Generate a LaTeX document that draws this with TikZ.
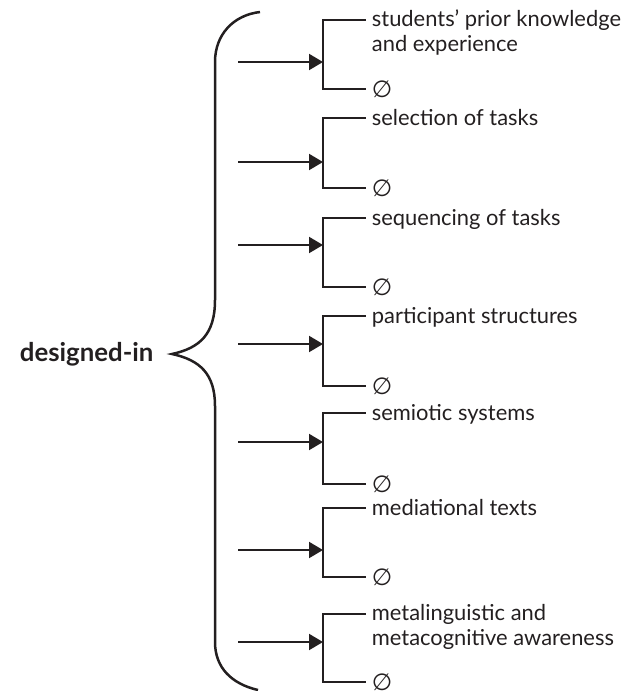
\documentclass[tikz,border=0pt]{standalone}
\usepackage{fontspec}
\setmainfont{Lato}
\newfontfamily\symbfont{DejaVu Sans}
\usepackage{xcolor}
\usepackage{tikz}
\usetikzlibrary{positioning,arrows.meta}
\definecolor{ink}{HTML}{231F20}

\begin{document}
\begin{tikzpicture}[x=0.03cm,y=-0.03cm,ink,
    font=\fontsize{18.7}{21.3}\selectfont,
    bar/.style={line width=0.06cm,line cap=rect},
    pointer/.style={line width=0.06cm,-{Triangle[length=0.42cm,width=0.48cm]}},
    item/.style={inner xsep=0.2cm,inner ysep=0pt,align=left,execute at begin node=\strut},
    nilmark/.style={inner xsep=0.2cm,inner ysep=0pt,font=\fontsize{20}{22}\symbfont},
    root/.style={font=\fontsize{22}{24}\selectfont\bfseries,inner sep=0pt}]
  \useasboundingbox (0,0) rectangle (631,691);
  % the big brace
  \coordinate (tip) at (172,354);
  \draw[line width=0.075cm] (260,12) .. controls (234,15) and (215,34) .. (215,62)
    -- (215,300) .. controls (215,334) and (200,348) .. (tip)
    .. controls (200,360) and (215,374) .. (215,406)
    -- (215,642) .. controls (215,668) and (232,684) .. (258,690);
  \node[root,left=0.55cm of tip] (designed) {designed-in};
  % one fork per design choice
  \foreach \n/\t/\a/\b/\txt in {
      1/20/62/89/{students' prior knowledge\\and experience},
      2/118/162/188/{selection of tasks},
      3/218/245/287/{sequencing of tasks},
      4/316/344/386/{participant structures},
      5/413/442/484/{semiotic systems},
      6/508/550/577/{mediational texts},
      7/614/642/682/{metalinguistic and\\metacognitive awareness}}{
    \coordinate (top\n) at (323,\t);
    \coordinate (bot\n) at (323,\b);
    \coordinate (hit\n) at (323,\a);
    \coordinate (src\n) at (238,\a);
    \node[item,anchor=north west] (txt\n) at (365,\t-10) {\txt};
    \node[nilmark,anchor=west] (nil\n) at (365,\b) {∅};
    \draw[bar] (txt\n.west |- top\n) -- (top\n) -- (bot\n) -- (nil\n.west);
    \draw[pointer] (src\n) -- (hit\n);
  }
\end{tikzpicture}
\end{document}
